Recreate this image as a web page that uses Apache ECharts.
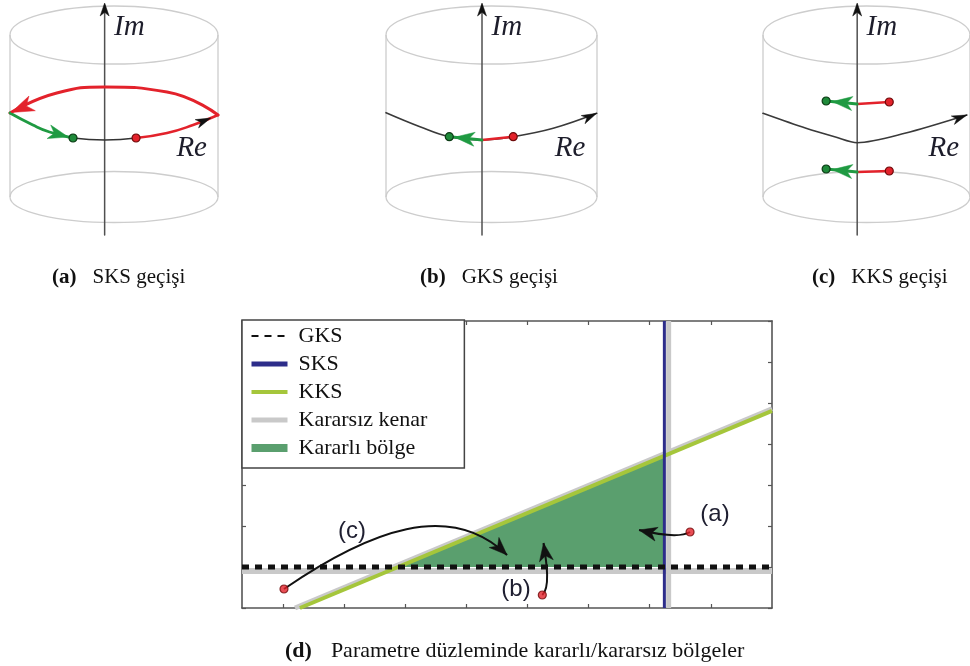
<!DOCTYPE html>
<html lang="tr">
<head>
<meta charset="utf-8">
<title>Kök geçişleri ve parametre düzlemi</title>
<script src="https://cdn.jsdelivr.net/npm/echarts@6.0.0/dist/echarts.min.js"></script>
<style>
  html, body { margin: 0; padding: 0; background: #fff; }
  #chart { width: 970px; height: 666px; }
</style>
</head>
<body>
<div id="chart"></div>
<script>
// ---------- (d) parameter plane ----------
const xTicks = [1, 2, 3, 4, 5, 6, 7, 8];
const xRange = [1 / 3, 9];
const yRange = [0, 7];

const gksX = [1 / 3, 9];       const gksY = [1, 1];
const sksX = [7.24, 7.24];     const sksY = [0, 7];
const kksX = [1.28, 9];        const kksY = [0, 4.81];
// unstable side of each boundary
const edgeGksX = [1 / 3, 9];   const edgeGksY = [0.9, 0.9];
const edgeSksX = [7.31, 7.31]; const edgeSksY = [0, 7];
const edgeKksX = [1.2, 9];     const edgeKksY = [0, 4.86];
// stable region enclosed by GKS, SKS and KKS
const stableX = [2.885, 7.24, 7.24];
const stableY = [1, 1, 3.71];

// parameter moves: start, two control points, end
const moveA = [[7.66, 1.854], [7.496, 1.707], [7.17, 1.78], [6.826, 1.902]];
const moveB = [[5.244, 0.317], [5.37, 0.488], [5.321, 1.049], [5.264, 1.585]];
const moveC = [[1.02, 0.463], [2.43, 1.90], [3.735, 2.634], [4.667, 1.293]];
const moveNames = ['(a)', '(b)', '(c)'];
const moveLabelX = [8.068, 4.814, 2.132];
const moveLabelY = [2.29, 0.463, 1.878];

// ---------- (a)(b)(c) root paths in the complex plane ----------
const imAxisX = -0.09;
const imAxis = [[imAxisX, -1.15], [imAxisX, 1.15]];
const imHead = [[imAxisX, 1.17, imAxisX, 1.0]];
const axisNames = ['Im', 'Re'];
const axisNameX = [imAxisX + 0.09, 0.6];
const axisNameY = [0.93, -0.28];

// (a) SKS: the root escapes through infinity and returns from the left
const aReal    = [[-0.394, -0.18], [-0.087, -0.2], [0.212, -0.18]];
const aRedOut  = [[0.212, -0.18], [0.51, -0.13], [0.76, -0.05], [1.0, 0.05]];
const aRedArc  = [[1.0, 0.05], [0.51, 0.28], [-0.087, 0.33], [-0.55, 0.27], [-1.0, 0.07]];
const aGreenIn = [[-1.0, 0.07], [-0.78, -0.05], [-0.62, -0.12], [-0.394, -0.18]];
const aStart = [[0.212, -0.18]];
const aEnd   = [[-0.394, -0.18]];
const aHeadsBlack = [[0.93, 0.02, 0.78, -0.045]];
const aHeadsRed   = [[-0.99, 0.075, -0.6, 0.25]];
const aHeadsGreen = [[-0.44, -0.17, -0.62, -0.12]];

// (b) GKS: a real root crosses through the origin
const bReal  = [[-1.0, 0.073], [-0.678, -0.067], [-0.4, -0.167], [-0.09, -0.2], [0.206, -0.167], [0.585, -0.083], [0.997, 0.067]];
const bRed   = [[-0.09, -0.2], [0.206, -0.167]];
const bGreen = [[-0.09, -0.2], [-0.4, -0.167]];
const bStart = [[0.206, -0.167]];
const bEnd   = [[-0.4, -0.167]];
const bHeadsBlack = [[0.997, 0.067, 0.8, -0.03]];
const bHeadsGreen = [[-0.35, -0.172, -0.09, -0.2]];

// (c) KKS: a complex pair crosses the imaginary axis
const cReal   = [[-1.0, 0.067], [-0.584, -0.083], [-0.3, -0.17], [-0.09, -0.227], [0.37, -0.133], [0.97, 0.05]];
const cRedUp  = [[-0.09, 0.16], [0.22, 0.18]];
const cGreenUp = [[-0.09, 0.16], [-0.39, 0.19]];
const cRedLo  = [[-0.09, -0.52], [0.22, -0.51]];
const cGreenLo = [[-0.09, -0.52], [-0.39, -0.49]];
const cStart = [[0.22, 0.18], [0.22, -0.51]];
const cEnd   = [[-0.39, 0.19], [-0.39, -0.49]];
const cHeadsBlack = [[0.97, 0.05, 0.8, -0.015]];
const cHeadsGreen = [[-0.33, 0.184, -0.09, 0.16], [-0.33, -0.496, -0.09, -0.52]];

const panelTags = ['(a)', '(b)', '(c)'];
const panelTitles = ['SKS geçişi', 'GKS geçişi', 'KKS geçişi'];

// ---------- styles ----------
const RED = '#e3222b', GREEN = '#1f9a42', CYL = '#cdcdcd';
const SERIF = '"Liberation Serif", "DejaVu Serif", serif';
const SANS = '"Liberation Sans", Arial, sans-serif';

// cylinder drawn in each panel's local frame (x = -1..1 spans it)
const CYL_TOP = 0.85, CYL_BOTTOM = -0.77, CYL_RY_TOP = 0.29, CYL_RY_BOTTOM = 0.255;

function stealthHead(tip, back, len, hw, color) {
  const dx = tip[0] - back[0], dy = tip[1] - back[1];
  const n = Math.hypot(dx, dy) || 1;
  const ux = dx / n, uy = dy / n;
  const bx = tip[0] - ux * len, by = tip[1] - uy * len;
  const nx = tip[0] - ux * len * 0.72, ny = tip[1] - uy * len * 0.72;
  return {
    type: 'polygon',
    shape: { points: [tip, [bx - uy * hw, by + ux * hw], [nx, ny], [bx + uy * hw, by - ux * hw]] },
    style: { fill: color, stroke: color, lineWidth: 0.5 }
  };
}

function headSeries(gi, list, color, len, hw, z) {
  return {
    type: 'custom', coordinateSystem: 'cartesian2d', xAxisIndex: gi, yAxisIndex: gi,
    silent: true, z: z, data: list, encode: { x: [0, 2], y: [1, 3] },
    renderItem: function (params, api) {
      const tip = api.coord([api.value(0), api.value(1)]);
      const back = api.coord([api.value(2), api.value(3)]);
      return stealthHead(tip, back, len, hw, color);
    }
  };
}

function pathSeries(gi, pts, color, width, smooth, z) {
  return {
    type: 'line', xAxisIndex: gi, yAxisIndex: gi, data: pts, symbol: 'none',
    smooth: smooth, silent: true, z: z, clip: false,
    lineStyle: { color: color, width: width, cap: 'round' }
  };
}

function dotSeries(gi, pts, fill, border, z) {
  return {
    type: 'scatter', xAxisIndex: gi, yAxisIndex: gi, data: pts, symbolSize: 8,
    silent: true, z: z, itemStyle: { color: fill, borderColor: border, borderWidth: 1.2, opacity: 1 }
  };
}

function cylinderSeries(gi) {
  return {
    type: 'custom', coordinateSystem: 'cartesian2d', xAxisIndex: gi, yAxisIndex: gi,
    silent: true, z: 1, data: [[0, 0]],
    renderItem: function (params, api) {
      const lt = api.coord([-1, CYL_TOP]), rt = api.coord([1, CYL_TOP]);
      const lb = api.coord([-1, CYL_BOTTOM]), rb = api.coord([1, CYL_BOTTOM]);
      const rx = (rt[0] - lt[0]) / 2;
      const ryT = api.size([0, CYL_RY_TOP])[1], ryB = api.size([0, CYL_RY_BOTTOM])[1];
      const st = { fill: 'none', stroke: CYL, lineWidth: 1.3 };
      return {
        type: 'group', children: [
          { type: 'ellipse', shape: { cx: lt[0] + rx, cy: lt[1], rx: rx, ry: ryT }, style: st },
          { type: 'ellipse', shape: { cx: lb[0] + rx, cy: lb[1], rx: rx, ry: ryB }, style: st },
          { type: 'line', shape: { x1: lt[0], y1: lt[1], x2: lb[0], y2: lb[1] }, style: st },
          { type: 'line', shape: { x1: rt[0], y1: rt[1], x2: rb[0], y2: rb[1] }, style: st }
        ]
      };
    }
  };
}

function axisNameSeries(gi) {
  return {
    type: 'custom', coordinateSystem: 'cartesian2d', xAxisIndex: gi, yAxisIndex: gi,
    silent: true, z: 6, data: axisNameX.map((x, i) => [x, axisNameY[i]]),
    renderItem: function (params, api) {
      const p = api.coord([api.value(0), api.value(1)]);
      return {
        type: 'text', x: p[0], y: p[1],
        style: { text: axisNames[params.dataIndex], fill: '#1d1d2b', font: 'italic 29px ' + SERIF, align: 'left', verticalAlign: 'middle' }
      };
    }
  };
}

function imAxisSeries(gi) {
  return [pathSeries(gi, imAxis, '#505050', 1.5, false, 2), headSeries(gi, imHead, '#111', 13, 4.5, 3)];
}

const series = [];
// panel (a)
series.push(cylinderSeries(0), ...imAxisSeries(0), axisNameSeries(0),
  pathSeries(0, aReal, '#333', 1.6, 0.5, 3),
  pathSeries(0, aRedOut, RED, 2.6, 0.5, 4),
  pathSeries(0, aRedArc, RED, 3, 0.5, 4),
  pathSeries(0, aGreenIn, GREEN, 2.8, 0.5, 4),
  headSeries(0, aHeadsBlack, '#111', 15, 4.5, 5),
  headSeries(0, aHeadsRed, RED, 23, 8, 5),
  headSeries(0, aHeadsGreen, GREEN, 20, 7, 5),
  dotSeries(0, aStart, RED, '#6e0b0b', 6),
  dotSeries(0, aEnd, '#1f8a3a', '#0b3a14', 6));
// panel (b)
series.push(cylinderSeries(1), ...imAxisSeries(1), axisNameSeries(1),
  pathSeries(1, bReal, '#3a3a3a', 1.6, 0.4, 3),
  pathSeries(1, bRed, RED, 2.6, false, 4),
  pathSeries(1, bGreen, GREEN, 2.8, false, 4),
  headSeries(1, bHeadsBlack, '#111', 15, 4.5, 5),
  headSeries(1, bHeadsGreen, GREEN, 20, 7, 5),
  dotSeries(1, bStart, RED, '#6e0b0b', 6),
  dotSeries(1, bEnd, '#1f8a3a', '#0b3a14', 6));
// panel (c)
series.push(cylinderSeries(2), ...imAxisSeries(2), axisNameSeries(2),
  pathSeries(2, cReal, '#3a3a3a', 1.6, 0.3, 3),
  pathSeries(2, cRedUp, RED, 2.6, false, 4),
  pathSeries(2, cGreenUp, GREEN, 2.8, false, 4),
  pathSeries(2, cRedLo, RED, 2.6, false, 4),
  pathSeries(2, cGreenLo, GREEN, 2.8, false, 4),
  headSeries(2, cHeadsBlack, '#111', 15, 4.5, 5),
  headSeries(2, cHeadsGreen, GREEN, 20, 7, 5),
  dotSeries(2, cStart, RED, '#6e0b0b', 6),
  dotSeries(2, cEnd, '#1f8a3a', '#0b3a14', 6));

// panel (d)
const zip = (xs, ys) => xs.map((x, i) => [x, ys[i]]);
const EDGE = '#c9c9c9', KKS_C = '#a5c63b', SKS_C = '#2d2d8a', STABLE_C = '#5a9f6e';
function planeLine(name, xs, ys, color, width, type, z) {
  return {
    name: name, type: 'line', xAxisIndex: 3, yAxisIndex: 3, data: zip(xs, ys),
    symbol: 'none', silent: true, z: z,
    itemStyle: { color: color },
    lineStyle: { color: color, width: width, type: type, cap: 'butt' }
  };
}
series.push(
  planeLine('Kararsız kenar', edgeGksX, edgeGksY, EDGE, 6, 'solid', 2),
  planeLine('Kararsız kenar', edgeSksX, edgeSksY, EDGE, 5, 'solid', 2),
  planeLine('Kararsız kenar', edgeKksX, edgeKksY, EDGE, 5, 'solid', 2),
  {
    name: 'Kararlı bölge', type: 'custom', coordinateSystem: 'cartesian2d', xAxisIndex: 3, yAxisIndex: 3,
    silent: true, z: 3, data: zip(stableX, stableY), itemStyle: { color: STABLE_C },
    renderItem: function (params, api) {
      if (params.dataIndex !== 0) return null;
      const pts = stableX.map((x, i) => api.coord([x, stableY[i]]));
      return { type: 'polygon', shape: { points: pts }, style: { fill: STABLE_C } };
    }
  },
  planeLine('KKS', kksX, kksY, KKS_C, 4, 'solid', 4),
  planeLine('SKS', sksX, sksY, SKS_C, 3, 'solid', 5),
  planeLine('GKS', gksX, gksY, '#111', 5, [7, 6], 6),
  {
    type: 'custom', coordinateSystem: 'cartesian2d', xAxisIndex: 3, yAxisIndex: 3,
    silent: true, z: 8, data: [moveA, moveB, moveC].map(m => m.flat()),
    encode: { x: [0, 2, 4, 6], y: [1, 3, 5, 7] },
    renderItem: function (params, api) {
      const p = [0, 1, 2, 3].map(k => api.coord([api.value(2 * k), api.value(2 * k + 1)]));
      return {
        type: 'group', children: [
          { type: 'bezierCurve', shape: { x1: p[0][0], y1: p[0][1], cpx1: p[1][0], cpy1: p[1][1], cpx2: p[2][0], cpy2: p[2][1], x2: p[3][0], y2: p[3][1] },
            style: { stroke: '#111', lineWidth: 2, fill: 'none' } },
          stealthHead(p[3], p[2], 18, 7, '#111')
        ]
      };
    }
  },
  {
    type: 'scatter', xAxisIndex: 3, yAxisIndex: 3, silent: true, z: 9, symbolSize: 8,
    data: [moveA[0], moveB[0], moveC[0]],
    itemStyle: { color: RED, borderColor: '#6e0b0b', borderWidth: 1.2 }
  },
  {
    type: 'custom', coordinateSystem: 'cartesian2d', xAxisIndex: 3, yAxisIndex: 3,
    silent: true, z: 9, data: zip(moveLabelX, moveLabelY),
    renderItem: function (params, api) {
      const p = api.coord([api.value(0), api.value(1)]);
      return { type: 'text', x: p[0], y: p[1],
        style: { text: moveNames[params.dataIndex], fill: '#1e1e30', font: '24px ' + SANS, align: 'center', verticalAlign: 'middle' } };
    }
  }
);

// ---------- layout ----------
const panelGrids = [
  { left: 10, top: 0, width: 208, height: 240 },
  { left: 386, top: 0, width: 211, height: 240 },
  { left: 763, top: 0, width: 210, height: 240 }
];
const hiddenX = panelGrids.map((g, i) => ({ gridIndex: i, type: 'value', min: -1, max: 1, show: false }));
const hiddenY = panelGrids.map((g, i) => ({ gridIndex: i, type: 'value', min: -1.2, max: 1.2, show: false }));

const frameLine = { show: true, onZero: false, lineStyle: { color: '#555', width: 1.6 } };
const tickIn = { show: true, inside: true, length: 4, lineStyle: { color: '#555', width: 1.2 } };
function planeX(pos) {
  return { gridIndex: 3, type: 'value', position: pos, min: xRange[0], max: xRange[1],
    axisLine: frameLine, axisTick: Object.assign({ customValues: xTicks }, tickIn),
    axisLabel: { show: false }, splitLine: { show: false } };
}
function planeY(pos) {
  return { gridIndex: 3, type: 'value', position: pos, min: yRange[0], max: yRange[1], interval: 1,
    axisLine: frameLine, axisTick: tickIn, axisLabel: { show: false }, splitLine: { show: false } };
}

const titleLeft = [47, 415, 807];
const titles = panelTags.map((tag, i) => ({
  text: '{t|' + tag + '}' + panelTitles[i], left: titleLeft[i], top: 262,
  textStyle: { fontFamily: SERIF, fontSize: 21, fontWeight: 'normal', color: '#111',
    rich: { t: { fontFamily: SERIF, fontSize: 21, fontWeight: 'bold', color: '#111', padding: [0, 16, 0, 0] } } }
}));
titles.push({
  text: '{t|(d)}Parametre düzleminde kararlı/kararsız bölgeler', left: 280, top: 635,
  textStyle: { fontFamily: SERIF, fontSize: 22, fontWeight: 'normal', color: '#111',
    rich: { t: { fontFamily: SERIF, fontSize: 22, fontWeight: 'bold', color: '#111', padding: [0, 19, 0, 0] } } }
});

const chart = echarts.init(document.getElementById('chart'), null, { renderer: 'canvas' });
chart.setOption({
  animation: false,
  backgroundColor: '#fff',
  title: titles,
  grid: panelGrids.concat([{ left: 242, top: 321, width: 530, height: 287 }]),
  xAxis: hiddenX.concat([planeX('bottom'), planeX('top')]),
  yAxis: hiddenY.concat([planeY('left'), planeY('right')]),
  legend: {
    left: 242, top: 320, orient: 'vertical', selectedMode: false,
    backgroundColor: '#fff', borderColor: '#444', borderWidth: 1.5, borderRadius: 0,
    padding: [5, 37, 9, 7], itemGap: 6, itemWidth: 36, itemHeight: 8, z: 20,
    // line samples only, no marker in the middle
    itemStyle: { color: 'rgba(0,0,0,0)', borderColor: 'rgba(0,0,0,0)', borderWidth: 0 },
    textStyle: { fontFamily: SERIF, fontSize: 22, lineHeight: 22, color: '#111', padding: [0, 0, 0, 6] },
    data: [
      { name: 'GKS' },
      { name: 'SKS', lineStyle: { width: 5 } },
      { name: 'KKS', lineStyle: { width: 4 } },
      { name: 'Kararsız kenar', lineStyle: { width: 5 } },
      { name: 'Kararlı bölge', icon: 'rect', itemStyle: { color: STABLE_C, borderWidth: 0 } }
    ]
  },
  series: series
});
</script>
</body>
</html>
